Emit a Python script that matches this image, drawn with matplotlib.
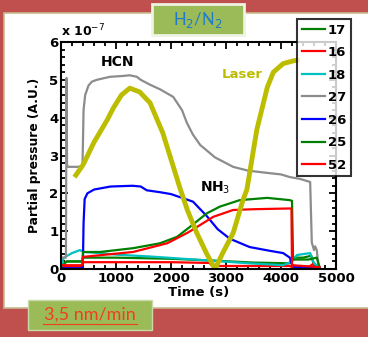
#!/usr/bin/env python
# Partial pressures during the H2/N2 run, recreated from a slide screenshot

import matplotlib
matplotlib.use("Agg")
import matplotlib.pyplot as plt
from matplotlib.patches import Rectangle
from matplotlib.lines import Line2D
from matplotlib.ticker import MultipleLocator

# values in units of 1e-7 (A.U.), time in s
t17 = [0, 100, 390, 400, 1000, 2000, 2800, 3500, 4160, 4200, 4400, 4550, 4600, 4700]
p17 = [0.05, 0.2, 0.2, 0.3, 0.3, 0.27, 0.22, 0.17, 0.15, 0.3, 0.3, 0.35, 0.1, 0.05]

t16 = [0, 390, 400, 2000, 2700, 2750, 4160, 4200, 4500, 4600, 4700]
p16 = [0.05, 0.05, 0.18, 0.18, 0.16, 0.08, 0.08, 0.05, 0.05, 0.15, 0.02]

t18 = [0, 50, 200, 345, 420, 710, 1000, 1620, 2530, 3430, 4040, 4200, 4290, 4530, 4600, 4700]
p18 = [0.05, 0.3, 0.42, 0.5, 0.45, 0.42, 0.38, 0.33, 0.24, 0.15, 0.1, 0.2, 0.37, 0.42, 0.15, 0.05]

t27 = [0, 90, 100, 110, 130, 300, 390, 400, 410, 440, 500, 560, 650, 890, 1100, 1250, 1380,
       1450, 1620, 1800, 2040, 2200, 2290, 2400, 2530, 2800, 3130, 3400, 3750, 4000, 4160,
       4350, 4530, 4560, 4600, 4620, 4650, 4680, 4700]
p27 = [0.3, 0.3, 5.05, 2.75, 2.7, 2.7, 2.72, 3.4, 4.2, 4.6, 4.85, 4.95, 5.0, 5.08, 5.1, 5.12, 5.08,
       5.0, 4.87, 4.75, 4.55, 4.2, 3.86, 3.55, 3.28, 2.95, 2.7, 2.6, 2.54, 2.5, 2.43,
       2.38, 2.3, 0.7, 0.5, 0.6, 0.5, 0.1, 0.05]

t26 = [0, 390, 400, 410, 430, 480, 600, 900, 1300, 1450, 1560, 1800, 2000, 2200, 2400,
       2650, 2850, 3070, 3430, 3800, 4040, 4160, 4200, 4250, 4700]
p26 = [0.02, 0.02, 0.3, 1.2, 1.85, 2.0, 2.1, 2.18, 2.2, 2.18, 2.08, 2.03, 1.98, 1.88, 1.78,
       1.4, 1.05, 0.8, 0.58, 0.48, 0.42, 0.3, 0.12, 0.05, 0.05]

t25 = [0, 100, 390, 400, 420, 710, 1310, 1800, 2110, 2350, 2650, 2890, 3250, 3750, 4160,
       4200, 4220, 4500, 4650, 4700]
p25 = [0.05, 0.2, 0.2, 0.45, 0.45, 0.45, 0.55, 0.68, 0.85, 1.12, 1.47, 1.65, 1.82, 1.88, 1.82,
       1.8, 0.25, 0.25, 0.3, 0.05]

t52 = [0, 390, 400, 1310, 1930, 2290, 2350, 2770, 3130, 3500, 4160, 4190, 4200, 4700]
p52 = [0.1, 0.1, 0.32, 0.45, 0.68, 0.95, 1.0, 1.38, 1.56, 1.58, 1.6, 1.6, 0.1, 0.05]

t_laser = [270, 400, 600, 840, 950, 1100, 1250, 1430, 1620, 1750, 1850, 2000, 2160, 2300,
           2470, 2650, 2800, 2950, 3130, 3310, 3380, 3560, 3750, 3860, 4040, 4220, 4300]
p_laser = [2.48, 2.75, 3.35, 3.94, 4.25, 4.6, 4.78, 4.68, 4.39, 3.94, 3.6, 2.9, 2.15, 1.55,
           0.95, 0.4, 0.0, 0.45, 0.95, 1.83, 2.1, 3.68, 4.8, 5.2, 5.43, 5.5, 5.52]

series = [
    ("17", t17, p17, "#008000"),
    ("16", t16, p16, "#FF0000"),
    ("18", t18, p18, "#00C0C0"),
    ("27", t27, p27, "#8C8C8C"),
    ("26", t26, p26, "#0000FF"),
    ("25", t25, p25, "#008000"),
    ("52", t52, p52, "#FF0000"),
]

W, H = 368, 337
fig = plt.figure(figsize=(W / 100, H / 100), dpi=100, facecolor="#C0504D")

# white slide panel
fig.patches.append(Rectangle((4 / W, 1 - 308 / H), 1.0, (308 - 13) / H,
                             transform=fig.transFigure, facecolor="white",
                             edgecolor="#C8BC8E", lw=1.2, zorder=-1))

ax = fig.add_axes([61 / W, 1 - 269 / H, (336 - 61) / W, (269 - 42) / H])
ax.set_zorder(1)

for name, t, p, c in series:
    ax.plot(t, p, color=c, lw=1.6, label=name)
ax.plot(t_laser, p_laser, color="#BDBD00", lw=3.5)

ax.set_xlim(0, 5000)
ax.set_ylim(0, 6)
ax.xaxis.set_major_locator(MultipleLocator(1000))
ax.xaxis.set_minor_locator(MultipleLocator(200))
ax.yaxis.set_major_locator(MultipleLocator(1))
ax.yaxis.set_minor_locator(MultipleLocator(0.2))
ax.tick_params(which="both", direction="in", top=True, right=True, width=1.3)
ax.tick_params(which="major", length=5, labelsize=9.5, pad=2)
ax.tick_params(which="minor", length=3)
for lab in ax.get_xticklabels() + ax.get_yticklabels():
    lab.set_fontweight("bold")
for s in ax.spines.values():
    s.set_linewidth(1.5)

ax.set_xlabel("Time (s)", fontsize=9.5, fontweight="bold", labelpad=1)
ax.set_ylabel("Partial pressure (A.U.)", fontsize=8.8, fontweight="bold", labelpad=6)

ax.text(0, 1.01, "x 10$^{-7}$", transform=ax.transAxes, fontsize=9, fontweight="bold",
        ha="left", va="bottom")
ax.text(1036, 5.48, "HCN", fontsize=10, fontweight="bold", ha="center", va="center")
ax.text(3300, 5.13, "Laser", fontsize=9.5, fontweight="bold", color="#BDBD00",
        ha="center", va="center")
ax.text(2800, 2.15, "NH$_3$", fontsize=10, fontweight="bold", ha="center", va="center")

leg = fig.legend(loc="upper left", bbox_to_anchor=(297 / W, 1 - 19 / H),
                 bbox_transform=fig.transFigure, fontsize=9.5, frameon=True,
                 fancybox=False, edgecolor="black", handlelength=1.8,
                 handletextpad=0.2, labelspacing=0.72, borderpad=0.35,
                 borderaxespad=0)
leg.set_zorder(10)
leg.get_frame().set_linewidth(1.5)
for txt in leg.get_texts():
    txt.set_fontweight("bold")

# green caption boxes of the slide
fig.patches.append(Rectangle((152 / W, 1 - 35 / H), 92 / W, 31 / H,
                             transform=fig.transFigure, facecolor="#9BBB59",
                             edgecolor="#EEF3E2", lw=2, zorder=5))
fig.text(198 / W, 1 - 20 / H, "H$_2$/N$_2$", fontsize=12, color="#1F7BC8",
         family="Lato", ha="center", va="center", zorder=6)
fig.patches.append(Rectangle((28 / W, 1 - 330 / H), 124 / W, 30 / H,
                             transform=fig.transFigure, facecolor="#9BBB59",
                             edgecolor="#C9D9A8", lw=1, zorder=5))
fig.text(90 / W, 1 - 315 / H, "3,5 nm/min", fontsize=13, color="#F0401A",
         family="Lato", ha="center", va="center", zorder=6)
fig.lines.append(Line2D([43 / W, 137 / W], [1 - 324 / H, 1 - 324 / H],
                        transform=fig.transFigure, color="#F0401A", lw=0.8, zorder=6))

fig.savefig("out.png", dpi=100, facecolor=fig.get_facecolor())
